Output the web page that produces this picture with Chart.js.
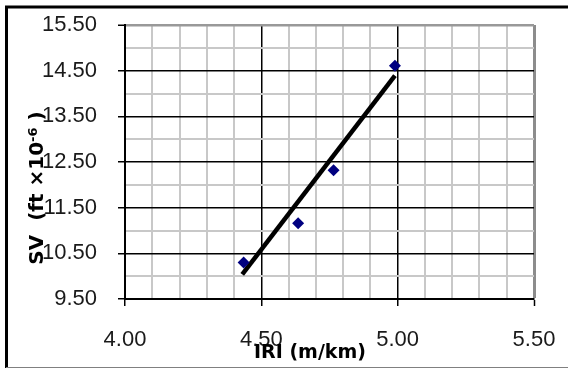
<!DOCTYPE html>
<html lang="en">
<head>
<meta charset="UTF-8">
<title>SV vs IRI</title>
<script src="https://cdn.jsdelivr.net/npm/chart.js"></script>
<style>
  body { margin: 0; background: #fff; }
  #wrap { width: 568px; height: 369px; }
</style>
</head>
<body>
<div id="wrap"><canvas id="svChart" width="568" height="369"></canvas></div>
<script>
  // measured points (IRI in m/km, SV in ft x 10^-6)
  const iriValues = [4.435, 4.635, 4.765, 4.99];
  const svValues = [10.30, 11.16, 12.32, 14.61];
  // ends of the linear trend line
  const trendIri = [4.43, 4.99];
  const trendSv = [10.04, 14.39];
  const xTickLabels = ['4.00', '4.50', '5.00', '5.50'];
  const yTickLabels = ['9.50', '10.50', '11.50', '12.50', '13.50', '14.50', '15.50'];

  const tickFont = { family: 'Liberation Sans', size: 22 };
  const minorGrid = '#c8c8c8';

  const isXMajor = v => xTickLabels.includes(v.toFixed(2));
  const isYMajor = v => yTickLabels.includes(v.toFixed(2));

  // outer frame plus the two axis titles (they overlap the tick labels like the original)
  const framePlugin = {
    id: 'frame',
    beforeDraw(chart) {
      const c = chart.ctx;
      c.save();
      c.fillStyle = '#fff';
      c.fillRect(0, 0, chart.width, chart.height);
      c.restore();
    },
    afterDraw(chart) {
      const c = chart.ctx;
      c.save();
      c.strokeStyle = '#000';
      c.lineWidth = 3;
      c.beginPath();
      c.moveTo(6.5, 368);
      c.lineTo(6.5, 7);
      c.lineTo(568, 7);
      c.stroke();
      c.strokeStyle = '#808080';
      c.lineWidth = 1;
      c.beginPath();
      c.moveTo(6, 367.5);
      c.lineTo(568, 367.5);
      c.stroke();

      c.fillStyle = '#000';
      c.textBaseline = 'alphabetic';

      // x title
      c.font = 'bold 19px "DejaVu Sans"';
      c.textAlign = 'center';
      c.fillText('IRI (m/km)', 310, 358);

      // y title, rotated, with superscript exponent
      const big = 'bold 20px "DejaVu Sans"';
      const small = 'bold 13px "DejaVu Sans"';
      const parts = [
        { t: 'SV  (ft \u00d710', f: big, rise: 0 },
        { t: '-6', f: small, rise: 6 },
        { t: ' )', f: big, rise: 0 }
      ];
      let total = 0;
      parts.forEach(p => { c.font = p.f; p.w = c.measureText(p.t).width; total += p.w; });
      c.translate(43, 188);
      c.rotate(-Math.PI / 2);
      c.textAlign = 'left';
      let pos = -total / 2;
      parts.forEach(p => {
        c.font = p.f;
        c.fillText(p.t, pos, -p.rise);
        pos += p.w;
      });
      c.restore();
    }
  };

  new Chart(document.getElementById('svChart'), {
    type: 'scatter',
    data: {
      datasets: [
        {
          label: 'SV',
          data: iriValues.map((x, i) => ({ x: x, y: svValues[i] })),
          pointStyle: 'rectRot',
          pointRadius: 6,
          backgroundColor: '#000080',
          borderColor: '#000080',
          borderWidth: 0
        },
        {
          label: 'Linear',
          data: trendIri.map((x, i) => ({ x: x, y: trendSv[i] })),
          showLine: true,
          pointRadius: 0,
          borderColor: '#000',
          borderWidth: 4.5
        }
      ]
    },
    options: {
      responsive: false,
      animation: false,
      devicePixelRatio: 1,
      layout: { padding: { left: 8, top: 25, right: 34, bottom: 0 } },
      plugins: {
        legend: { display: false },
        tooltip: { enabled: false }
      },
      scales: {
        x: {
          type: 'linear',
          min: 4,
          max: 5.5,
          afterFit: s => { s.height = 70; s.paddingLeft = 0; s.paddingRight = 0; },
          ticks: {
            stepSize: 0.1,
            autoSkip: false,
            maxRotation: 0,
            padding: 21,
            color: '#1a1a1a',
            font: tickFont,
            callback: v => isXMajor(v) ? v.toFixed(2) : ''
          },
          grid: {
            tickLength: 7,
            tickWidth: 1.5,
            tickColor: ctx => isXMajor(ctx.tick.value) ? '#000' : 'rgba(0,0,0,0)',
            color: ctx => {
              const v = ctx.tick.value;
              if (Math.abs(v - 5.5) < 1e-6) return '#8c8c8c';
              return isXMajor(v) ? '#000' : minorGrid;
            },
            lineWidth: ctx => {
              const v = ctx.tick.value;
              if (Math.abs(v - 5.5) < 1e-6) return 3;
              return isXMajor(v) ? 1.5 : 2;
            }
          },
          border: { color: '#000', width: 2 }
        },
        y: {
          type: 'linear',
          min: 9.5,
          max: 15.5,
          afterFit: s => { s.width = 117; s.paddingTop = 0; s.paddingBottom = 0; },
          ticks: {
            stepSize: 0.5,
            autoSkip: false,
            padding: 21,
            color: '#1a1a1a',
            font: tickFont,
            callback: v => isYMajor(v) ? v.toFixed(2) : ''
          },
          grid: {
            tickLength: 7,
            tickWidth: 1.5,
            tickColor: ctx => isYMajor(ctx.tick.value) ? '#000' : 'rgba(0,0,0,0)',
            color: ctx => {
              const v = ctx.tick.value;
              if (Math.abs(v - 15.5) < 1e-6) return '#999';
              return isYMajor(v) ? '#000' : minorGrid;
            },
            lineWidth: ctx => {
              const v = ctx.tick.value;
              if (Math.abs(v - 15.5) < 1e-6) return 2.5;
              return isYMajor(v) ? 1.5 : 2;
            }
          },
          border: { color: '#000', width: 2 }
        }
      }
    },
    plugins: [framePlugin]
  });
</script>
</body>
</html>
